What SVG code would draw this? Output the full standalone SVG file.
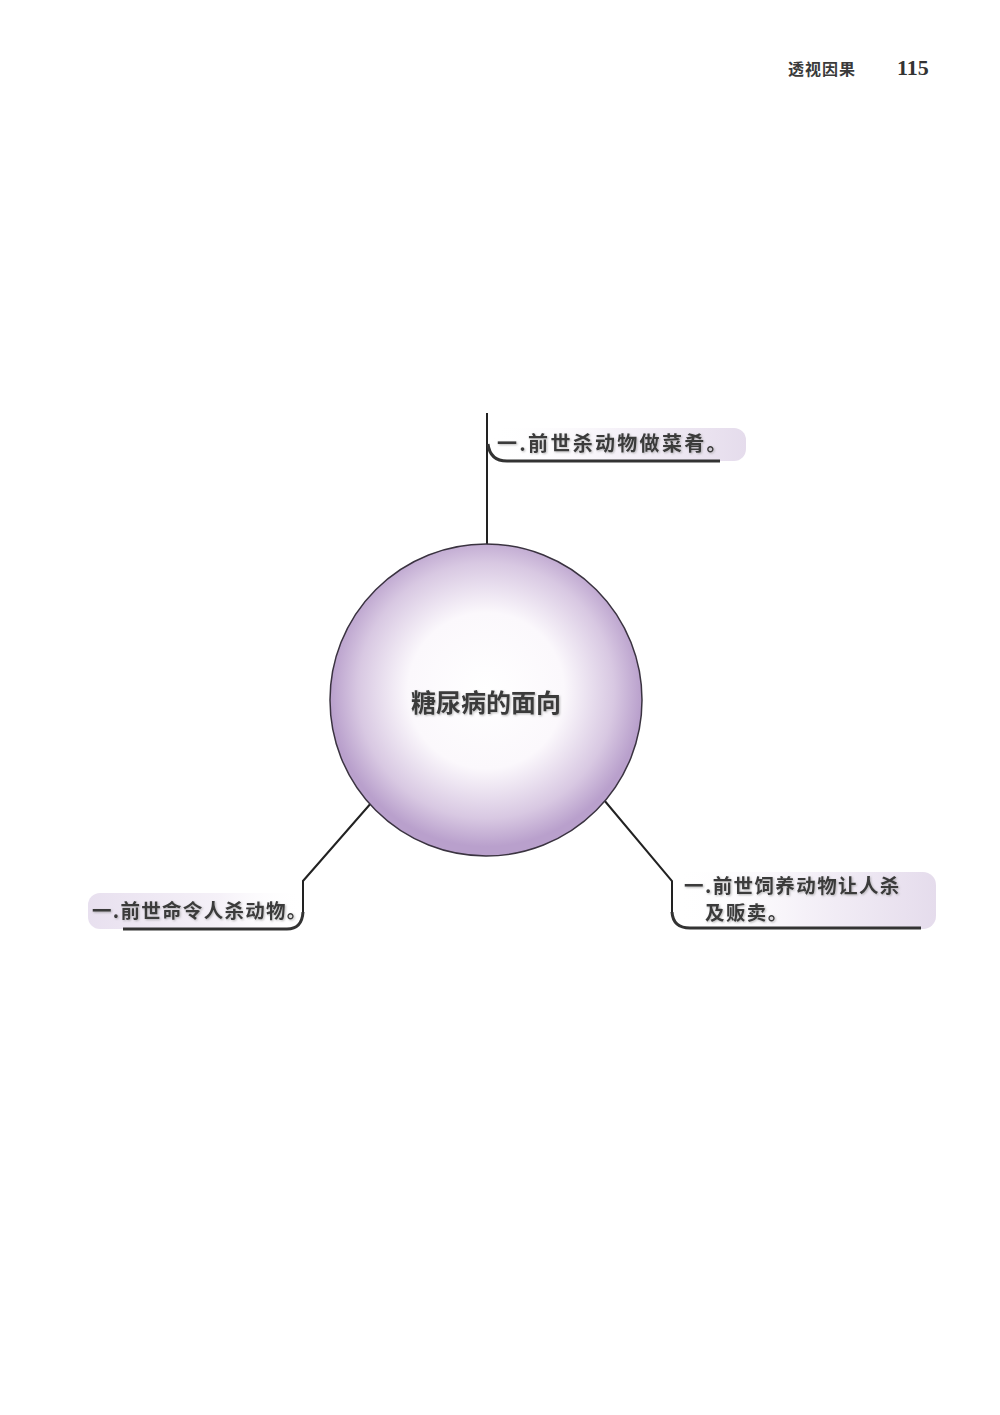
<svg xmlns="http://www.w3.org/2000/svg" width="1000" height="1415" viewBox="0 0 1000 1415">
<defs>
<radialGradient id="ball" cx="0.5" cy="0.47" r="0.5">
<stop offset="0" stop-color="#ffffff"/>
<stop offset="0.5" stop-color="#fbf8fc"/>
<stop offset="0.82" stop-color="#d8c8e2"/>
<stop offset="1" stop-color="#b9a0cc"/>
</radialGradient>
<linearGradient id="toR" x1="0" y1="0" x2="1" y2="0">
<stop offset="0" stop-color="#ffffff" stop-opacity="0"/>
<stop offset="0.5" stop-color="#f5f1f8"/>
<stop offset="1" stop-color="#e5dcec"/>
</linearGradient>
<linearGradient id="toL" x1="1" y1="0" x2="0" y2="0">
<stop offset="0" stop-color="#ffffff" stop-opacity="0"/>
<stop offset="0.4" stop-color="#f5f1f8"/>
<stop offset="1" stop-color="#e8e0ef"/>
</linearGradient>
<filter id="sh" x="-5%" y="-20%" width="110%" height="140%">
<feDropShadow dx="1" dy="1" stdDeviation="0.8" flood-color="#888" flood-opacity="0.6"/>
</filter>
</defs>
<style>
.lbl{font-family:"Noto Sans CJK SC","Noto Sans CJK TC",sans-serif;font-weight:700;fill:#3a3a3a;filter:url(#sh)}
.con{fill:none;stroke:#222;stroke-width:2}
.base{fill:none;stroke:#333;stroke-width:3}
</style>
<rect width="1000" height="1415" fill="#ffffff"/>
<g id="header">
<text x="788" y="75" class="lbl" font-size="16" letter-spacing="1" style="filter:none" fill="#333">透视因果</text>
<text x="897" y="75" font-family="Liberation Serif,serif" font-weight="700" font-size="22" fill="#333">115</text>
</g>
<g id="label-top">
<rect x="489" y="428" width="257" height="33" rx="12" fill="url(#toR)"/>
<text x="497" y="451" class="lbl" font-size="20" letter-spacing="2.3">一.前世杀动物做菜肴。</text>
</g>
<g id="label-left">
<rect x="88" y="893" width="217" height="36" rx="12" fill="url(#toL)"/>
<text x="92" y="918" class="lbl" font-size="19.5" letter-spacing="1.3">一.前世命令人杀动物。</text>
</g>
<g id="label-right">
<rect x="673" y="872" width="263" height="57" rx="13" fill="url(#toR)"/>
<text x="684" y="893" class="lbl" font-size="19.5" letter-spacing="1.4">一.前世饲养动物让人杀</text>
<text x="705" y="920" class="lbl" font-size="19.5" letter-spacing="1.4">及贩卖。</text>
</g>
<g id="connectors">
<path class="con" d="M487 413 V545"/>
<path class="base" d="M488 444 Q490 461 507 461 H720"/>
<path class="con" d="M372 802 L303 881 V915"/>
<path class="base" d="M303 912 Q302 929 287 929 H123"/>
<path class="con" d="M604 800 L672 881 V915"/>
<path class="base" d="M672 912 Q673 928 690 928 H921"/>
</g>
<g id="center">
<circle cx="486" cy="700" r="156" fill="url(#ball)" stroke="#3a3340" stroke-width="1.5"/>
<text x="486" y="712" text-anchor="middle" class="lbl" font-size="25">糖尿病的面向</text>
</g>
</svg>
